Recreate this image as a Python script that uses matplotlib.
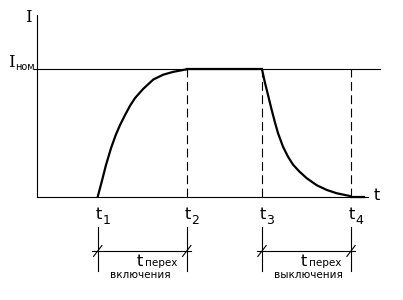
import numpy as np
import matplotlib
matplotlib.use("Agg")
import matplotlib.pyplot as plt

# moments of switching (arbitrary time units) and nominal current
t_marks = [1.0, 2.0, 2.846, 3.846]
t_names = ["1", "2", "3", "4"]
I_nom = 1.0

# current during switching on (time after t1)
rise_dt = [0.0, 0.045, 0.093, 0.149, 0.202, 0.251, 0.307, 0.363, 0.420,
           0.509, 0.625, 0.737, 0.849, 1.0]
rise_I = [0.0, 0.118, 0.249, 0.380, 0.484, 0.563, 0.641, 0.714, 0.775,
          0.845, 0.920, 0.958, 0.980, 1.0]

# current during switching off (time after t3)
fall_dt = [0.0, 0.030, 0.067, 0.104, 0.143, 0.180, 0.236, 0.292, 0.348,
           0.416, 0.502, 0.615, 0.727, 0.839, 0.989, 1.0]
fall_I = [1.0, 0.903, 0.799, 0.694, 0.589, 0.498, 0.392, 0.314, 0.252,
          0.200, 0.145, 0.090, 0.053, 0.027, 0.005, 0.0]

t_axis = (0.318, 4.037)
I_axis_top = 1.426

fig = plt.figure(figsize=(4.03, 3.0), dpi=100)
ax = fig.add_axes([0, 0, 1, 1])
ax.set_xlim(-0.098, 4.430)
ax.set_ylim(-0.811, 1.544)
ax.axis("off")

k = "black"
t1, t2, t3, t4 = t_marks

# axes
ax.plot([t_axis[0], t_axis[0]], [0, I_axis_top], color=k, lw=0.8)
ax.plot(t_axis, [0, 0], color=k, lw=0.8)
ax.plot([0.284, 4.172], [I_nom, I_nom], color=k, lw=0.8)

# curve
rise_t = [t1 + d for d in rise_dt]
fall_t = [t3 + d for d in fall_dt]
ax.plot(rise_t, rise_I, color=k, lw=1.6, solid_joinstyle="round")
ax.plot([t2, t3], [I_nom, I_nom], color=k, lw=1.6)
ax.plot(fall_t, fall_I, color=k, lw=1.6, solid_joinstyle="round")
ax.plot([t4, t_axis[1] - 0.05], [0, 0], color=k, lw=1.6)

# dashed guides
for t in [t2, t3, t4]:
    ax.plot([t, t], [0, I_nom], color=k, lw=0.8, dashes=(8, 4))

# labels on the axes
ax.text(0.217, 1.41, "I", fontsize=12, family="DejaVu Serif", ha="center", va="center")
ax.text(-0.005, 1.05, "I", fontsize=12, family="DejaVu Serif", ha="left", va="center")
ax.text(0.07, 1.02, "ном", fontsize=7, ha="left", va="center")
ax.text(4.138, 0.01, "t", fontsize=11.5, ha="center", va="center")

for t, n in zip(t_marks, t_names):
    ax.text(t + 0.01, -0.136, "t", fontsize=11.5, ha="center", va="center")
    ax.text(t + 0.05, -0.185, n, fontsize=9, ha="left", va="center")

# dimension lines of the transients
spans = [(t1, t2, "включения"), (t3, t4, "выключения")]
for a, b, word in spans:
    for t in (a, b):
        ax.plot([t, t], [-0.238, -0.584], color=k, lw=0.8)
        ax.plot([t - 0.047, t + 0.047], [-0.469, -0.383], color=k, lw=0.8)
    ax.plot([a - 0.06, b + 0.05], [-0.426, -0.426], color=k, lw=0.8)
    mid = (a + b) / 2
    ax.text(mid - 0.03, -0.548, "t", fontsize=11.5, ha="center", va="baseline")
    ax.text(mid + 0.03, -0.548, "перех", fontsize=7.5, ha="left", va="baseline")
    ax.text(mid - 0.025 + (0.05 if word == "выключения" else 0), -0.642, word,
            fontsize=7.5, ha="center", va="baseline")

plt.savefig("out.png", dpi=100)
